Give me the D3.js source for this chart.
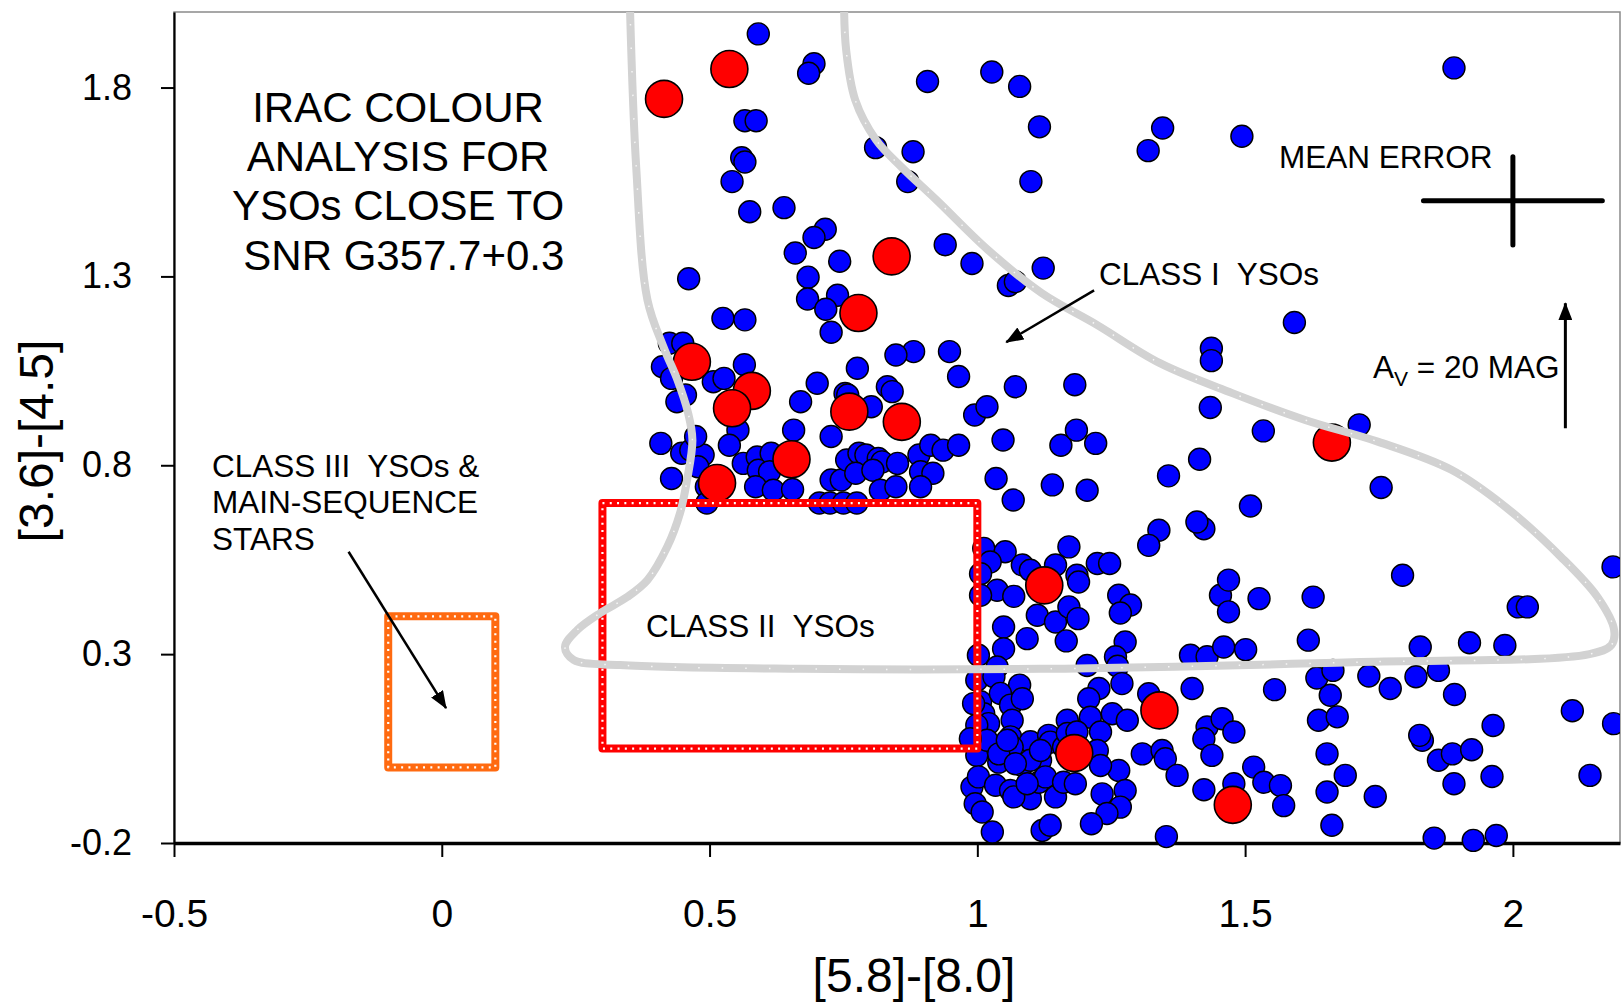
<!DOCTYPE html>
<html>
<head>
<meta charset="utf-8">
<script src="https://cdn.jsdelivr.net/npm/d3@7"></script>
<style>
  body { margin: 0; background: #fff; }
  svg text { font-family: "Liberation Sans", Arial, sans-serif; fill: #000; }
</style>
</head>
<body>
<svg id="chart" width="1621" height="1008"></svg>
<script>
// axes
var xDomain = [-0.5, 2.2];
var yDomain = [-0.2, 2.0];
var xTicks = [-0.5, 0, 0.5, 1, 1.5, 2];
var yTicks = [-0.2, 0.3, 0.8, 1.3, 1.8];
var xTitle = '[5.8]-[8.0]';
var yTitle = '[3.6]-[4.5]';

// YSOs near the SNR ([5.8]-[8.0], [3.6]-[4.5])
var redStars = [
  [0.415, 1.770], [0.537, 1.849], [0.840, 1.353], [0.778, 1.203], [0.467, 1.074],
  [0.579, 0.997], [0.542, 0.951], [0.761, 0.942], [0.859, 0.915], [0.653, 0.816],
  [0.514, 0.753], [1.662, 0.860], [1.125, 0.482], [1.340, 0.151], [1.181, 0.038],
  [1.477, -0.099]
];

var blueStars = [
  // upper part
  [0.591, 1.942], [0.695, 1.863], [0.685, 1.838], [0.907, 1.816], [1.027, 1.841], [1.079, 1.803], [1.890, 1.852],
  [0.566, 1.712], [0.587, 1.712], [1.116, 1.696], [1.346, 1.693], [1.319, 1.633], [1.494, 1.671],
  [0.810, 1.641], [0.880, 1.630], [0.870, 1.551], [0.560, 1.614], [0.566, 1.603], [0.542, 1.551], [1.100, 1.551],
  [0.575, 1.471], [0.639, 1.482], [0.716, 1.425], [0.695, 1.403], [0.940, 1.384], [0.660, 1.362], [0.743, 1.340], [0.990, 1.334],
  [0.684, 1.298], [0.461, 1.294], [1.123, 1.322], [1.058, 1.276], [1.071, 1.286], [0.683, 1.240], [0.739, 1.250],
  [0.717, 1.213], [0.727, 1.152], [0.525, 1.189], [0.566, 1.185], [0.425, 1.123], [0.450, 1.123],
  [1.592, 1.178], [1.437, 1.110], [1.437, 1.077],
  // middle cluster
  [0.412, 1.061], [0.429, 1.030], [0.507, 1.021], [0.527, 1.030], [0.565, 1.066], [0.455, 0.986], [0.439, 0.968],
  [0.701, 1.017], [0.670, 0.968], [0.553, 0.893], [0.657, 0.893], [0.776, 1.057], [0.753, 0.990], [0.758, 0.986],
  [0.832, 1.008], [0.841, 0.995], [0.802, 0.955], [0.727, 0.876], [0.409, 0.858], [0.448, 0.832], [0.465, 0.840],
  [0.488, 0.827], [0.537, 0.853], [0.429, 0.765], [0.478, 0.796], [0.494, 0.743], [0.474, 0.876],
  [0.563, 0.805], [0.589, 0.822], [0.591, 0.787], [0.615, 0.832], [0.612, 0.783], [0.586, 0.743], [0.619, 0.734], [0.655, 0.736],
  [0.705, 0.700], [0.725, 0.700], [0.750, 0.700], [0.775, 0.700], [0.495, 0.700],
  [0.727, 0.761], [0.746, 0.761], [0.756, 0.814], [0.779, 0.832], [0.792, 0.827], [0.815, 0.818], [0.822, 0.809],
  [0.773, 0.779], [0.805, 0.787], [0.851, 0.805], [0.819, 0.734], [0.848, 0.743],
  [0.891, 0.827], [0.913, 0.853], [0.936, 0.840], [0.965, 0.853], [0.894, 0.783], [0.917, 0.779], [0.894, 0.743],
  [1.035, 0.765], [1.067, 0.708], [1.140, 0.748], [1.205, 0.734], [1.048, 0.867], [1.156, 0.853], [1.185, 0.893],
  [0.995, 0.933], [1.018, 0.955], [1.071, 1.008], [1.182, 1.013], [0.965, 1.035], [0.881, 1.101], [0.848, 1.092],
  [0.948, 1.101], [1.221, 0.858],
  // right middle
  [1.435, 0.953], [1.534, 0.891], [1.713, 0.907], [1.415, 0.816], [1.357, 0.772], [1.510, 0.692], [1.754, 0.741],
  [1.794, 0.509], [2.187, 0.531], [2.010, 0.425], [2.027, 0.425], [1.827, 0.319], [1.919, 0.330], [1.985, 0.323],
  // right of class II box
  [1.012, 0.580], [1.052, 0.571], [1.024, 0.544], [1.084, 0.536], [1.099, 0.522], [1.146, 0.536], [1.171, 0.584],
  [1.186, 0.509], [1.189, 0.491], [1.224, 0.540], [1.247, 0.540], [1.006, 0.513], [1.037, 0.469], [1.068, 0.453],
  [1.006, 0.456], [1.264, 0.456], [1.286, 0.430], [1.267, 0.409], [1.112, 0.403], [1.146, 0.385], [1.171, 0.425],
  [1.188, 0.394], [1.049, 0.372], [1.093, 0.341], [1.166, 0.335], [1.049, 0.314], [1.002, 0.297], [1.276, 0.332],
  [1.258, 0.293], [1.205, 0.270], [1.037, 0.266], [1.398, 0.297], [1.429, 0.293], [1.460, 0.319], [1.501, 0.312],
  [1.618, 0.337], [1.627, 0.451], [1.526, 0.447], [1.454, 0.456], [1.469, 0.496], [1.469, 0.412], [1.339, 0.628],
  [1.320, 0.588], [1.423, 0.632], [1.410, 0.650], [1.262, 0.268],
  // lower part
  [1.270, 0.222], [1.227, 0.209], [1.208, 0.182], [1.252, 0.142], [1.280, 0.125], [1.211, 0.133], [1.230, 0.094],
  [1.320, 0.195], [1.401, 0.209], [1.555, 0.206], [1.659, 0.191], [1.637, 0.125], [1.672, 0.134], [1.429, 0.107],
  [1.457, 0.129], [1.479, 0.094], [1.423, 0.076], [1.438, 0.032], [1.653, 0.036], [1.308, 0.036], [1.345, 0.045],
  [1.351, 0.023], [1.373, -0.021], [1.264, -0.008], [1.276, -0.061], [1.233, -0.070], [1.267, -0.105], [1.242, -0.122],
  [1.213, -0.149], [1.353, -0.183], [1.423, -0.059], [1.479, -0.043], [1.516, 0.001], [1.535, -0.039], [1.566, -0.048],
  [1.572, -0.101], [1.687, -0.021], [1.653, -0.065], [1.662, -0.153], [1.743, -0.077],
  [0.999, 0.231], [1.031, 0.240], [1.079, 0.218], [1.006, 0.174], [1.043, 0.196], [1.062, 0.165], [1.084, 0.182],
  [1.012, 0.142], [1.021, 0.116], [0.999, 0.112], [1.065, 0.125], [1.062, 0.081], [1.099, 0.068], [1.065, 0.054],
  [0.999, 0.032], [1.040, 0.014], [1.084, 0.005], [1.118, 0.019], [1.133, 0.085], [1.168, 0.125], [1.136, 0.067],
  [1.161, 0.054], [1.168, 0.090], [1.186, 0.094], [1.224, 0.045], [1.230, 0.005], [0.990, -0.052], [1.002, -0.025],
  [1.034, -0.047], [1.062, -0.061], [1.093, -0.061], [1.099, -0.083], [1.068, -0.078], [1.115, -0.039], [1.127, -0.025],
  [1.146, -0.078], [1.161, -0.039], [1.183, -0.043], [0.996, -0.096], [1.009, -0.118], [1.028, -0.171], [1.121, -0.167],
  [1.136, -0.153], [1.018, 0.072], [1.040, 0.036], [1.056, 0.072], [1.099, 0.019], [1.118, 0.045], [1.071, 0.010],
  [1.093, -0.043], [0.993, 0.169], [0.987, 0.076],
  // far right
  [1.891, 0.193], [2.111, 0.150], [2.188, 0.116], [1.963, 0.111], [1.831, 0.072], [1.826, 0.085], [1.861, 0.019],
  [1.887, 0.036], [1.923, 0.047], [1.961, -0.024], [1.890, -0.043], [2.144, -0.021], [1.853, -0.187], [1.926, -0.193],
  [1.969, -0.180], [1.771, 0.209], [1.731, 0.242], [1.819, 0.240], [1.861, 0.257], [1.634, 0.237], [1.664, 0.257]
];

// class I region outline
var classIBoundary = [
  [0.351, 2.03], [0.363, 1.590], [0.384, 1.238], [0.414, 1.113], [0.440, 1.026], [0.460, 0.938], [0.468, 0.867],
  [0.458, 0.761], [0.445, 0.674], [0.421, 0.584], [0.384, 0.496], [0.346, 0.451], [0.296, 0.409], [0.253, 0.364],
  [0.230, 0.319], [0.246, 0.285], [0.333, 0.271], [0.669, 0.261], [1.118, 0.261], [1.715, 0.279], [2.143, 0.300],
  [2.184, 0.324], [2.189, 0.364], [2.158, 0.451], [2.090, 0.557], [1.986, 0.690], [1.885, 0.788], [1.749, 0.862],
  [1.612, 0.920], [1.476, 0.991], [1.340, 1.071], [1.224, 1.171], [1.120, 1.256], [1.020, 1.370], [0.924, 1.502],
  [0.858, 1.590], [0.811, 1.661], [0.772, 1.767], [0.755, 1.900], [0.751, 2.03]
];

var classIIBox = {x0: 0.3, x1: 1.0, y0: 0.05, y1: 0.7};
var classIIIBox = {x0: -0.1, x1: 0.1, y0: 0.0, y1: 0.4};
var meanError = {x: 2.0, y: 1.5, dx: 0.167, dy: 0.117};
var reddening = {x: 2.098, y0: 0.898, y1: 1.229};
var classIArrow = [[1.218, 1.263], [1.054, 1.126]];
var classIIIArrow = [[-0.174, 0.571], [0.008, 0.157]];

var titleLines = ['IRAC COLOUR', 'ANALYSIS FOR', 'YSOs CLOSE TO', ' SNR G357.7+0.3'];
var classIIILines = ['CLASS III  YSOs &', 'MAIN-SEQUENCE', 'STARS'];

var width = 1621, height = 1008;
var margin = {top: 12, right: 1, bottom: 165, left: 174};

var svg = d3.select('#chart');

var x = d3.scaleLinear().domain(xDomain).range([margin.left, width - margin.right]);
var y = d3.scaleLinear().domain(yDomain).range([height - margin.bottom, margin.top]);

svg.append('defs').append('clipPath').attr('id', 'plot-clip')
  .append('rect')
  .attr('x', margin.left).attr('y', margin.top)
  .attr('width', width - margin.left - margin.right)
  .attr('height', height - margin.top);

var defs = svg.select('defs');
defs.append('marker')
  .attr('id', 'arrow')
  .attr('markerUnits', 'userSpaceOnUse')
  .attr('viewBox', '0 0 18 14')
  .attr('markerWidth', 18).attr('markerHeight', 14)
  .attr('refX', 17).attr('refY', 7)
  .attr('orient', 'auto')
  .append('path').attr('d', 'M0,0 L18,7 L0,14 Z').attr('fill', '#000');

// frame
svg.append('rect')
  .attr('x', x(xDomain[0])).attr('y', y(yDomain[1]))
  .attr('width', x(xDomain[1]) - x(xDomain[0]))
  .attr('height', y(yDomain[0]) - y(yDomain[1]))
  .attr('fill', 'none').attr('stroke', '#8a8a8a').attr('stroke-width', 1.5);

// axes
var fmt = function(d){ return String(d); };
var yAxis = svg.append('g')
  .attr('transform', 'translate(' + x(xDomain[0]) + ',0)')
  .call(d3.axisLeft(y).tickValues(yTicks).tickFormat(fmt).tickSize(13).tickSizeOuter(0).tickPadding(29));
yAxis.select('.domain').attr('stroke-width', 2.2);
yAxis.selectAll('.tick line').attr('stroke-width', 2);
yAxis.selectAll('.tick text').attr('font-size', 36).attr('font-family', '"Liberation Sans", Arial, sans-serif');

var xAxis = svg.append('g')
  .attr('transform', 'translate(0,' + y(yDomain[0]) + ')')
  .call(d3.axisBottom(x).tickValues(xTicks).tickFormat(fmt).tickSize(14).tickSizeOuter(0).tickPadding(42));
xAxis.select('.domain').attr('stroke-width', 3.5);
xAxis.selectAll('.tick line').attr('stroke-width', 2);
xAxis.selectAll('.tick text').attr('font-size', 39).attr('font-family', '"Liberation Sans", Arial, sans-serif');

svg.append('text')
  .attr('x', 914).attr('y', 992)
  .attr('text-anchor', 'middle').attr('font-size', 48)
  .text(xTitle);

svg.append('text')
  .attr('transform', 'translate(53,441) rotate(-90)')
  .attr('text-anchor', 'middle').attr('font-size', 48)
  .text(yTitle);

// stars
var plot = svg.append('g').attr('clip-path', 'url(#plot-clip)');

plot.append('g').selectAll('circle')
  .data(blueStars)
  .enter()
  .append('circle')
  .attr('cx', function(d){ return x(d[0]); })
  .attr('cy', function(d){ return y(d[1]); })
  .attr('r', 11)
  .attr('fill', '#0000ff')
  .attr('stroke', '#000')
  .attr('stroke-width', 1.4);

plot.append('g').selectAll('circle')
  .data(redStars)
  .enter()
  .append('circle')
  .attr('cx', function(d){ return x(d[0]); })
  .attr('cy', function(d){ return y(d[1]); })
  .attr('r', 18.5)
  .attr('fill', '#ff0000')
  .attr('stroke', '#000')
  .attr('stroke-width', 1.6);

// dotted boxes
function dottedBox(box, colour){
  var g = plot.append('g');
  [[colour, 8, null], ['#fff', 2.2, '2 5.3']].forEach(function(s){
    g.append('rect')
      .attr('x', x(box.x0)).attr('y', y(box.y1))
      .attr('width', x(box.x1) - x(box.x0))
      .attr('height', y(box.y0) - y(box.y1))
      .attr('fill', 'none')
      .attr('stroke', s[0])
      .attr('stroke-width', s[1])
      .attr('stroke-linejoin', 'round')
      .attr('stroke-dasharray', s[2]);
  });
}
dottedBox(classIIBox, '#ff0000');
dottedBox(classIIIBox, '#ff6a10');

// class I outline
var outline = d3.line()
  .x(function(d){ return x(d[0]); })
  .y(function(d){ return y(d[1]); })
  .curve(d3.curveCatmullRom.alpha(0.5));

plot.append('path')
  .attr('d', outline(classIBoundary))
  .attr('fill', 'none')
  .attr('stroke', '#d2d2d2')
  .attr('stroke-width', 8)
  .attr('stroke-linejoin', 'round');
plot.append('path')
  .attr('d', outline(classIBoundary))
  .attr('fill', 'none')
  .attr('stroke', '#fff')
  .attr('stroke-width', 1.5)
  .attr('stroke-dasharray', '1.5 22')
  .attr('opacity', 0.8);

// annotations
svg.append('g').selectAll('text')
  .data(titleLines)
  .enter()
  .append('text')
  .attr('x', 398)
  .attr('y', function(d, i){ return 122 + i * 49.2; })
  .attr('text-anchor', 'middle')
  .attr('font-size', 42)
  .style('white-space', 'pre')
  .text(function(d){ return d; });

svg.append('g').selectAll('text')
  .data(classIIILines)
  .enter()
  .append('text')
  .attr('x', 212)
  .attr('y', function(d, i){ return 477 + i * 36.3; })
  .attr('font-size', 31.5)
  .style('white-space', 'pre')
  .text(function(d){ return d; });

svg.append('text').attr('x', 646).attr('y', 637).attr('font-size', 31.5)
  .style('white-space', 'pre').text('CLASS II  YSOs');
svg.append('text').attr('x', 1099).attr('y', 285).attr('font-size', 31.5)
  .style('white-space', 'pre').text('CLASS I  YSOs');
svg.append('text').attr('x', 1279).attr('y', 168).attr('font-size', 31.5)
  .text('MEAN ERROR');

var av = svg.append('text').attr('x', 1373).attr('y', 378).attr('font-size', 31.5);
av.append('tspan').text('A');
av.append('tspan').attr('font-size', 21).attr('dy', 8).text('V');
av.append('tspan').attr('dy', -8).text(' = 20 MAG');

function arrow(p0, p1, w){
  svg.append('line')
    .attr('x1', x(p0[0])).attr('y1', y(p0[1]))
    .attr('x2', x(p1[0])).attr('y2', y(p1[1]))
    .attr('stroke', '#000').attr('stroke-width', w)
    .attr('marker-end', 'url(#arrow)');
}
arrow(classIArrow[0], classIArrow[1], 2.5);
arrow(classIIIArrow[0], classIIIArrow[1], 2.5);
arrow([reddening.x, reddening.y0], [reddening.x, reddening.y1], 3);

// mean error bars
var err = svg.append('g').attr('stroke', '#000').attr('stroke-width', 5).attr('stroke-linecap', 'round');
err.append('line')
  .attr('x1', x(meanError.x - meanError.dx)).attr('x2', x(meanError.x + meanError.dx))
  .attr('y1', y(meanError.y)).attr('y2', y(meanError.y));
err.append('line')
  .attr('x1', x(meanError.x)).attr('x2', x(meanError.x))
  .attr('y1', y(meanError.y - meanError.dy)).attr('y2', y(meanError.y + meanError.dy));
</script>
</body>
</html>
